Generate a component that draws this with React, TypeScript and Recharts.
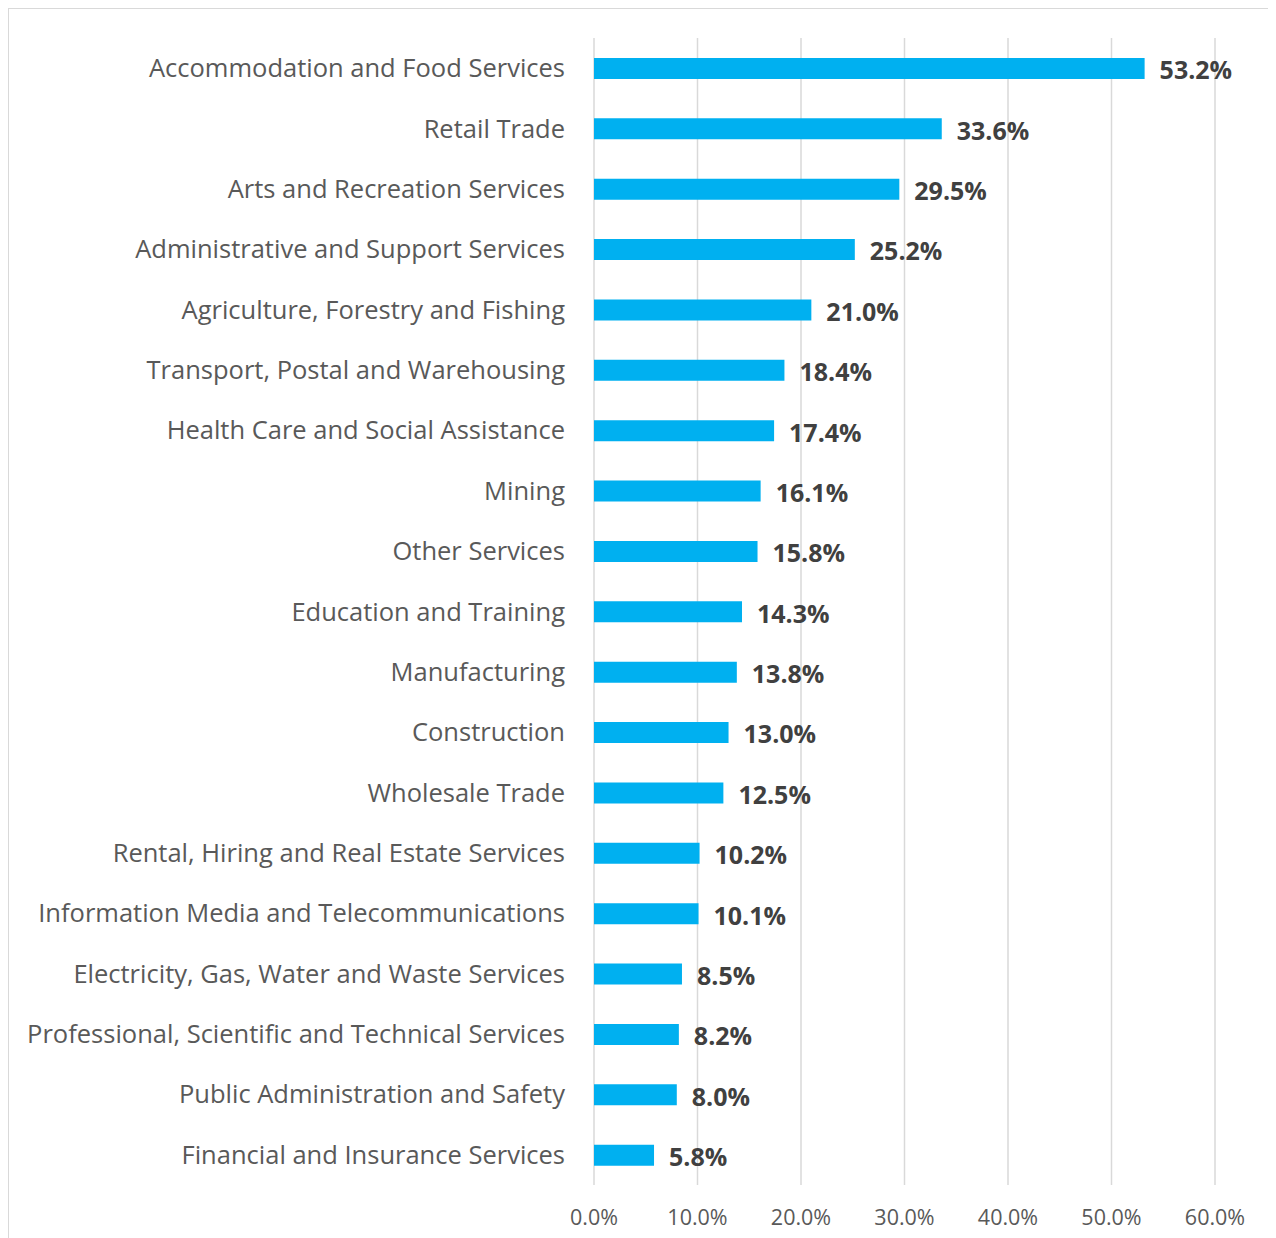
import React from "react";
import { BarChart, Bar, XAxis, YAxis, CartesianGrid, LabelList } from "recharts";

const categories = [
  "Accommodation and Food Services",
  "Retail Trade",
  "Arts and Recreation Services",
  "Administrative and Support Services",
  "Agriculture, Forestry and Fishing",
  "Transport, Postal and Warehousing",
  "Health Care and Social Assistance",
  "Mining",
  "Other Services",
  "Education and Training",
  "Manufacturing",
  "Construction",
  "Wholesale Trade",
  "Rental, Hiring and Real Estate Services",
  "Information Media and Telecommunications",
  "Electricity, Gas, Water and Waste Services",
  "Professional, Scientific and Technical Services",
  "Public Administration and Safety",
  "Financial and Insurance Services",
];

const values = [53.2, 33.6, 29.5, 25.2, 21.0, 18.4, 17.4, 16.1, 15.8, 14.3, 13.8, 13.0, 12.5, 10.2, 10.1, 8.5, 8.2, 8.0, 5.8];

const xTicks = [0, 10, 20, 30, 40, 50, 60];

const data = categories.map((name, i) => ({ name, value: values[i] }));

const FONT = "'Open Sans', 'Noto Sans', sans-serif";

export default function App() {
  return (
    <div
      style={{
        width: 1268,
        height: 1240,
        border: "1px solid #d9d9d9",
        boxSizing: "border-box",
        background: "#fff",
      }}
    >
      <BarChart
        width={1266}
        height={1238}
        data={data}
        layout="vertical"
        margin={{ top: 29, right: 60, bottom: 0, left: 0 }}
        barCategoryGap={0}
      >
        <CartesianGrid horizontal={false} vertical={true} stroke="#d9d9d9" strokeWidth={1.5} />
        <XAxis
          type="number"
          domain={[0, 60]}
          ticks={xTicks}
          interval={0}
          tickFormatter={(v: number) => v.toFixed(1) + "%"}
          axisLine={false}
          tickLine={false}
          tickSize={0}
          tickMargin={25}
          height={62}
          tick={{ fill: "#595959", fontSize: 21.5, fontFamily: FONT }}
        />
        <YAxis
          type="category"
          dataKey="name"
          width={585}
          axisLine={false}
          tickLine={false}
          tickSize={0}
          tickMargin={29}
          interval={0}
          tick={{ fill: "#595959", fontSize: 25.5, fontFamily: FONT }}
        />
        <Bar dataKey="value" fill="#00b0f0" barSize={21} isAnimationActive={false}>
          <LabelList
            dataKey="value"
            position="right"
            offset={15}
            formatter={(v: number) => v.toFixed(1) + "%"}
            style={{ fill: "#404040", fontSize: 25, fontWeight: 700, fontFamily: FONT }}
            dy={2}
          />
        </Bar>
      </BarChart>
    </div>
  );
}
